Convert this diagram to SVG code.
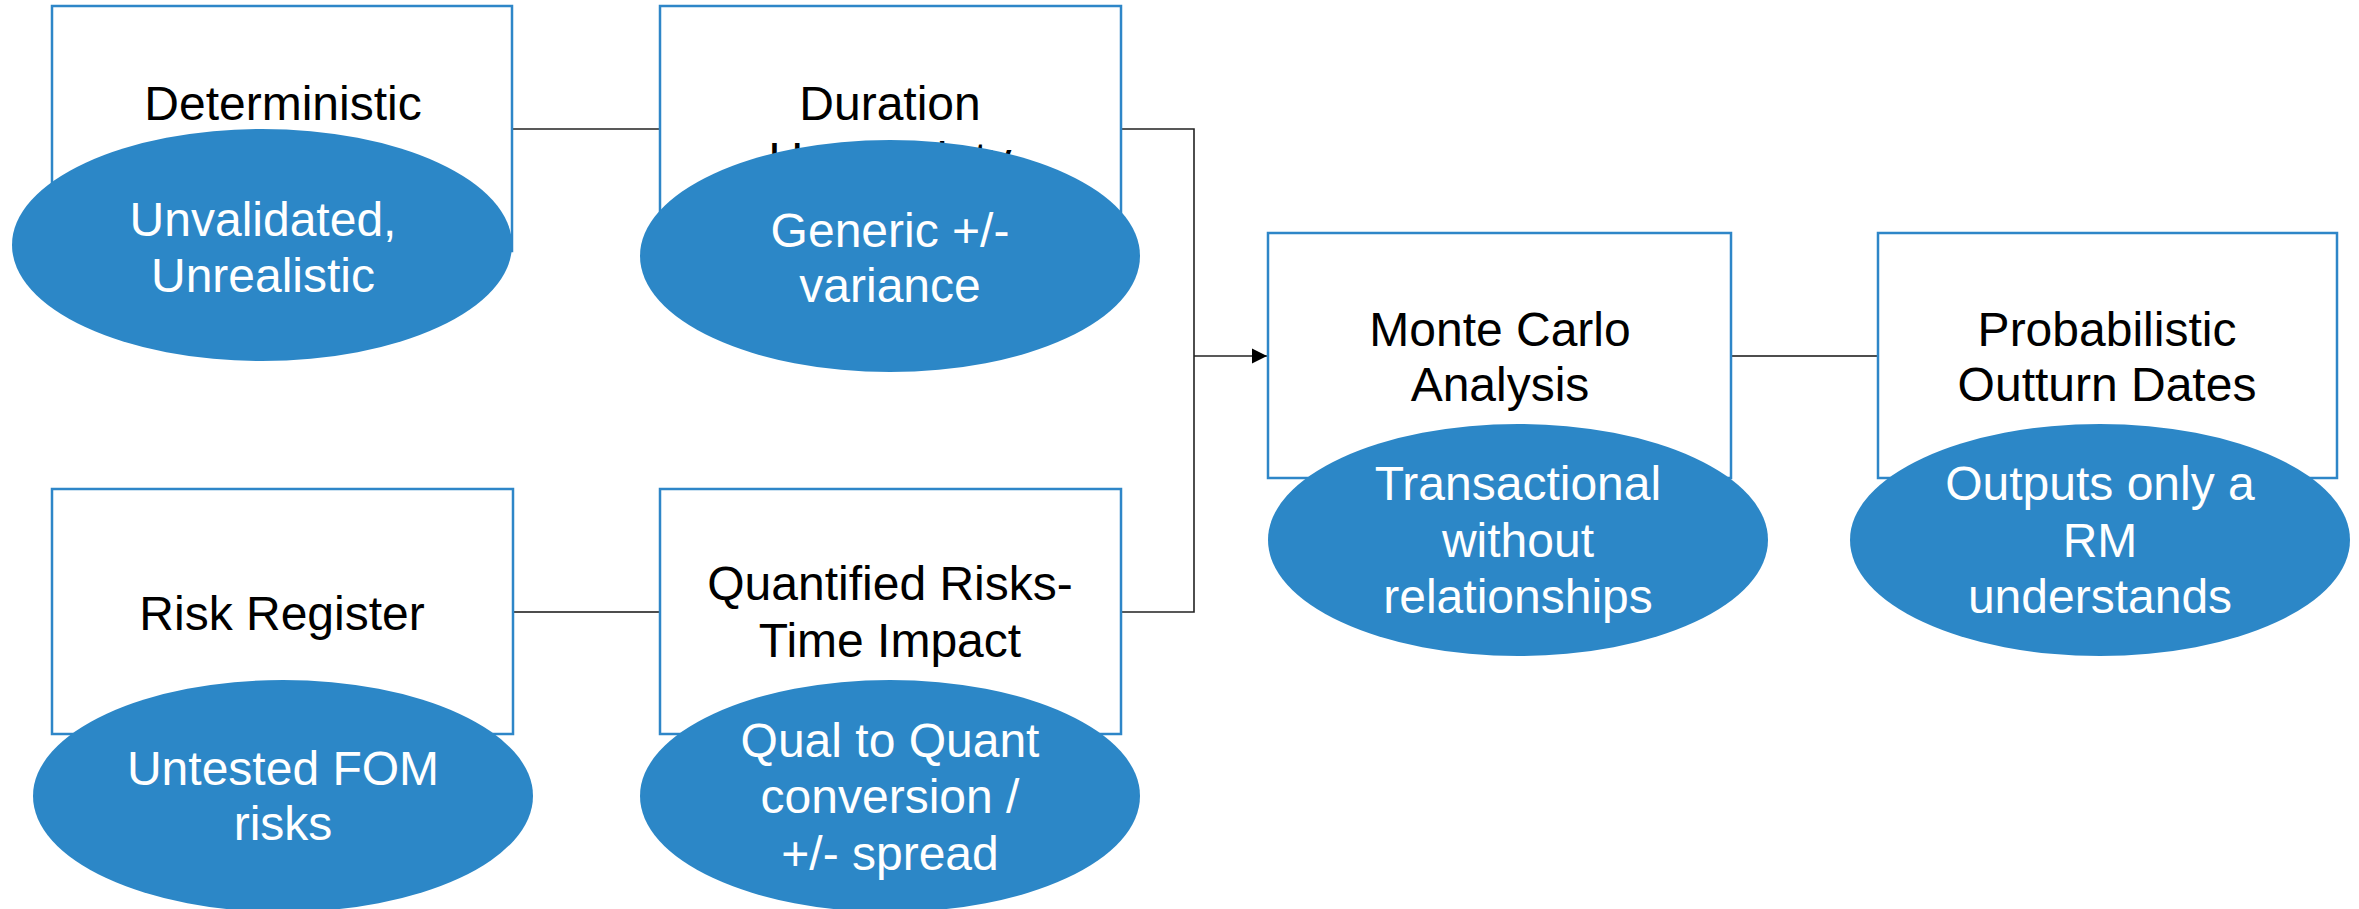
<svg xmlns="http://www.w3.org/2000/svg" width="2359" height="909" viewBox="0 0 2359 909">
<defs>
<style>
.box{fill:#ffffff;stroke:#2E86C8;stroke-width:2.5}
.ell{fill:#2C87C7;stroke:none}
.t{font-family:"Liberation Sans",Arial,sans-serif;font-size:48px;text-anchor:middle;fill:#000000}
.w{font-family:"Liberation Sans",Arial,sans-serif;font-size:48px;text-anchor:middle;fill:#ffffff}
.c{fill:none;stroke:#222222;stroke-width:1.6}
.g{fill:none;stroke:#4d4d4d;stroke-width:2}
</style>
<marker id="arr" markerWidth="16" markerHeight="16" refX="15" refY="8" orient="auto" markerUnits="userSpaceOnUse">
<path d="M0,0.5 L15,8 L0,15.5 Z" fill="#000000"/>
</marker>
</defs>
<rect width="2359" height="909" fill="#ffffff"/>
<g id="connectors">
<line class="c" x1="512" y1="129" x2="660" y2="129"/>
<polyline class="c" points="1121,129 1194,129 1194,612 1121,612"/>
<line class="c" x1="1194" y1="356" x2="1267" y2="356" marker-end="url(#arr)" stroke="#000" stroke-width="2"/>
<line class="g" x1="1731" y1="356" x2="1878" y2="356"/>
<line class="g" x1="513" y1="612" x2="660" y2="612"/>
</g>
<g id="deterministic">
<rect class="box" x="52" y="6" width="460" height="245"/>
<text class="t" x="283" y="120">Deterministic</text>
</g>
<g id="duration">
<rect class="box" x="660" y="6" width="461" height="245"/>
<text class="t" x="890" y="120">Duration</text>
<text class="t" x="890" y="176">Uncertainty</text>
</g>
<g id="montecarlo">
<rect class="box" x="1268" y="233" width="463" height="245"/>
<text class="t" x="1500" y="346">Monte Carlo</text>
<text class="t" x="1500" y="401">Analysis</text>
</g>
<g id="probabilistic">
<rect class="box" x="1878" y="233" width="459" height="245"/>
<text class="t" x="2107" y="346">Probabilistic</text>
<text class="t" x="2107" y="401">Outturn Dates</text>
</g>
<g id="riskregister">
<rect class="box" x="52" y="489" width="461" height="245"/>
<text class="t" x="282" y="630">Risk Register</text>
</g>
<g id="quantified">
<rect class="box" x="660" y="489" width="461" height="245"/>
<text class="t" x="890" y="600">Quantified Risks-</text>
<text class="t" x="890" y="657">Time Impact</text>
</g>
<g id="unvalidated">
<ellipse class="ell" cx="262" cy="245" rx="250" ry="116"/>
<text class="w" x="263" y="236">Unvalidated,</text>
<text class="w" x="263" y="292">Unrealistic</text>
</g>
<g id="generic">
<ellipse class="ell" cx="890" cy="256" rx="250" ry="116"/>
<text class="w" x="890" y="247">Generic +/-</text>
<text class="w" x="890" y="302">variance</text>
</g>
<g id="transactional">
<ellipse class="ell" cx="1518" cy="540" rx="250" ry="116"/>
<text class="w" x="1518" y="500">Transactional</text>
<text class="w" x="1518" y="557">without</text>
<text class="w" x="1518" y="613">relationships</text>
</g>
<g id="outputs">
<ellipse class="ell" cx="2100" cy="540" rx="250" ry="116"/>
<text class="w" x="2100" y="500">Outputs only a</text>
<text class="w" x="2100" y="557">RM</text>
<text class="w" x="2100" y="613">understands</text>
</g>
<g id="untested">
<ellipse class="ell" cx="283" cy="796" rx="250" ry="116"/>
<text class="w" x="283" y="785">Untested FOM</text>
<text class="w" x="283" y="840">risks</text>
</g>
<g id="qual">
<ellipse class="ell" cx="890" cy="796" rx="250" ry="116"/>
<text class="w" x="890" y="757">Qual to Quant</text>
<text class="w" x="890" y="813">conversion /</text>
<text class="w" x="890" y="870">+/- spread</text>
</g>
</svg>
